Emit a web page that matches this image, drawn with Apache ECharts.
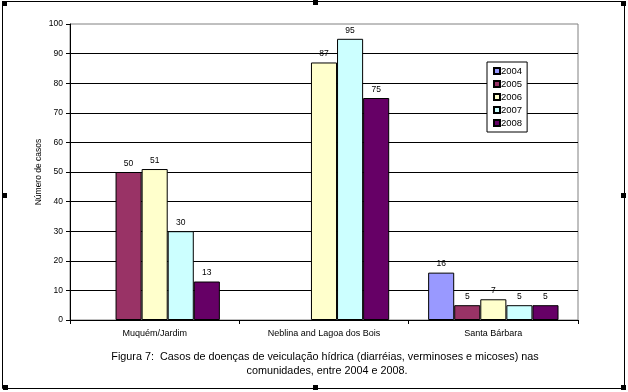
<!DOCTYPE html>
<html>
<head>
<meta charset="utf-8">
<script src="https://cdn.jsdelivr.net/npm/echarts@6/dist/echarts.min.js"></script>
<style>html,body{margin:0;padding:0;background:#fff}#c{width:628px;height:392px}</style>
</head>
<body>
<div id="c"></div>
<script>
const categories = ['Muquém/Jardim', 'Neblina and Lagoa dos Bois', 'Santa Bárbara'];
const years = ['2004', '2005', '2006', '2007', '2008'];
const s2004 = [null, null, 16];
const s2005 = [50, null, 5];
const s2006 = [51, 87, 7];
const s2007 = [30, 95, 5];
const s2008 = [13, 75, 5];
const yTicks = [0, 10, 20, 30, 40, 50, 60, 70, 80, 90, 100];
const captionLines = ['Figura 7:  Casos de doenças de veiculação hídrica (diarréias, verminoses e micoses) nas', 'comunidades, entre 2004 e 2008.'];

const colors = ['#9999FF', '#993366', '#FFFFCC', '#CCFFFF', '#660066'];
const seriesData = [s2004, s2005, s2006, s2007, s2008];
const FONT = 'Arial, "Liberation Sans", sans-serif';

const chart = echarts.init(document.getElementById('c'), null, {renderer: 'canvas'});

const handles = [[2,1],[313,0],[621,1],[2,193],[621,193],[3,385],[313,385],[621,385]].map(p => ({
  type: 'rect', shape: {x: p[0], y: p[1], width: 5, height: 5}, style: {fill: '#000'}, z: 100
}));

chart.setOption({
  animation: false,
  backgroundColor: '#fff',
  color: colors,
  textStyle: {fontFamily: FONT, color: '#000'},
  grid: {left: 70, right: 50, top: 24, bottom: 72, show: true, borderColor: '#808080', borderWidth: 1, backgroundColor: '#fff'},
  legend: {
    orient: 'vertical', left: 487, top: 62,
    data: years,
    itemWidth: 6, itemHeight: 6, itemGap: 3,
    padding: [4, 5, 4, 6],
    borderColor: '#000', borderWidth: 1, backgroundColor: '#fff',
    textStyle: {fontSize: 9.5, fontFamily: FONT, color: '#000', padding: [0, 0, 0, -4]},
    icon: 'rect'
  },
  xAxis: {
    type: 'category', data: categories,
    axisLine: {lineStyle: {color: '#000', width: 1}},
    axisTick: {show: true, length: 4, lineStyle: {color: '#000'}},
    axisLabel: {fontSize: 9, color: '#000', margin: 9, fontFamily: FONT},
    splitLine: {show: false}
  },
  yAxis: {
    type: 'value', min: 0, max: 100, interval: 10,
    name: 'Número de casos', nameLocation: 'middle', nameGap: 27, nameMoveOverlap: false,
    nameTextStyle: {fontSize: 8.5, color: '#000', fontFamily: FONT},
    axisLine: {show: true, lineStyle: {color: '#000', width: 1}},
    axisTick: {show: true, length: 4, lineStyle: {color: '#000'}},
    axisLabel: {fontSize: 8.5, color: '#000', margin: 7, fontFamily: FONT,
      formatter: v => yTicks.includes(v) ? String(v) : ''},
    splitLine: {show: true, showMinLine: false, showMaxLine: false, lineStyle: {color: '#000', width: 1}}
  },
  series: seriesData.map((d, i) => ({
    name: years[i], type: 'bar', data: d,
    barGap: '0%', barCategoryGap: '23%',
    itemStyle: {color: colors[i], borderColor: '#000', borderWidth: 1},
    label: {show: true, position: 'top', distance: 4, fontSize: 8.5, color: '#000', fontFamily: FONT}
  })),
  graphic: [
    {type: 'rect', shape: {x: 2.5, y: 1.5, width: 622, height: 387}, style: {fill: 'none', stroke: '#000', lineWidth: 1}, z: 99, silent: true},
    {type: 'text', x: 325, y: 352, style: {text: captionLines[0], fontSize: 10.8, fontFamily: FONT, fill: '#000', align: 'center', verticalAlign: 'top'}},
    {type: 'text', x: 327, y: 366, style: {text: captionLines[1], fontSize: 10.8, fontFamily: FONT, fill: '#000', align: 'center', verticalAlign: 'top'}},
    ...handles
  ]
});
</script>
</body>
</html>
